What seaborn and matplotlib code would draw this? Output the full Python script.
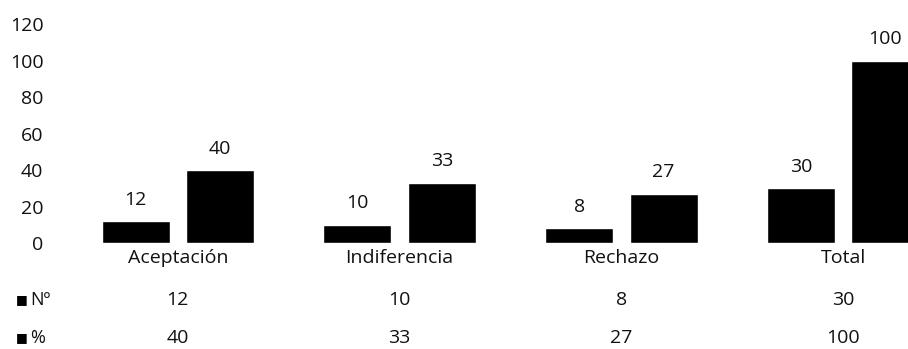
import matplotlib.pyplot as plt
import matplotlib.transforms as mtransforms
import pandas as pd
import seaborn as sns

# datos del gráfico
categorias = ["Aceptación", "Indiferencia", "Rechazo", "Total"]
series = ["Nº", "%"]
numero = [12, 10, 8, 30]
porcentaje = [40, 33, 27, 100]
y_ticks = [0, 20, 40, 60, 80, 100, 120]

df = pd.DataFrame({
    "categoria": categorias * 2,
    "serie": [series[0]] * len(categorias) + [series[1]] * len(categorias),
    "valor": numero + porcentaje,
})

sns.set_theme(style="white")
plt.rcParams["font.family"] = ["Open Sans", "DejaVu Sans"]
FS = 14
TXT = "#111111"

W, H = 908, 349
fig = plt.figure(figsize=(W / 100, H / 100), dpi=100)
# el área de trazado sobresale a la derecha (la imagen original está recortada)
ax = fig.add_axes([67 / W, 106 / H, 887 / W, 219 / H])

sns.barplot(data=df, x="categoria", y="valor", hue="serie",
            palette=["black", "black"], width=0.762, gap=0.197,
            saturation=1, legend=False, ax=ax)

for cont in ax.containers:
    ax.bar_label(cont, padding=9, fontsize=FS, color=TXT)

ax.set_xlim(-0.5, len(categorias) - 0.5)
ax.set_ylim(0, 120)
ax.set_yticks(y_ticks)
ax.set_xlabel("")
ax.set_ylabel("")
ax.tick_params(axis="y", length=0, pad=17, labelsize=FS, labelcolor=TXT)
ax.tick_params(axis="x", length=0, pad=4, labelsize=FS, labelcolor=TXT)
sns.despine(ax=ax, left=True, bottom=True)

# tabla de datos bajo el eje
trans = mtransforms.blended_transform_factory(ax.transData, ax.transAxes)
for fila, valores in zip([-0.26, -0.434], [numero, porcentaje]):
    for i, v in enumerate(valores):
        ax.text(i, fila, str(v), transform=trans, ha="center", va="center",
                fontsize=FS, color=TXT)

for y_px, nombre in zip([300, 338], series):
    fig.text(16 / W, 1 - y_px / H, "■", family=["DejaVu Sans"], fontsize=9,
             ha="left", va="center", color="black")
    fig.text(30 / W, 1 - y_px / H, nombre, fontsize=FS - 1, ha="left",
             va="center", color=TXT)

fig.savefig("out.png", dpi=100)
